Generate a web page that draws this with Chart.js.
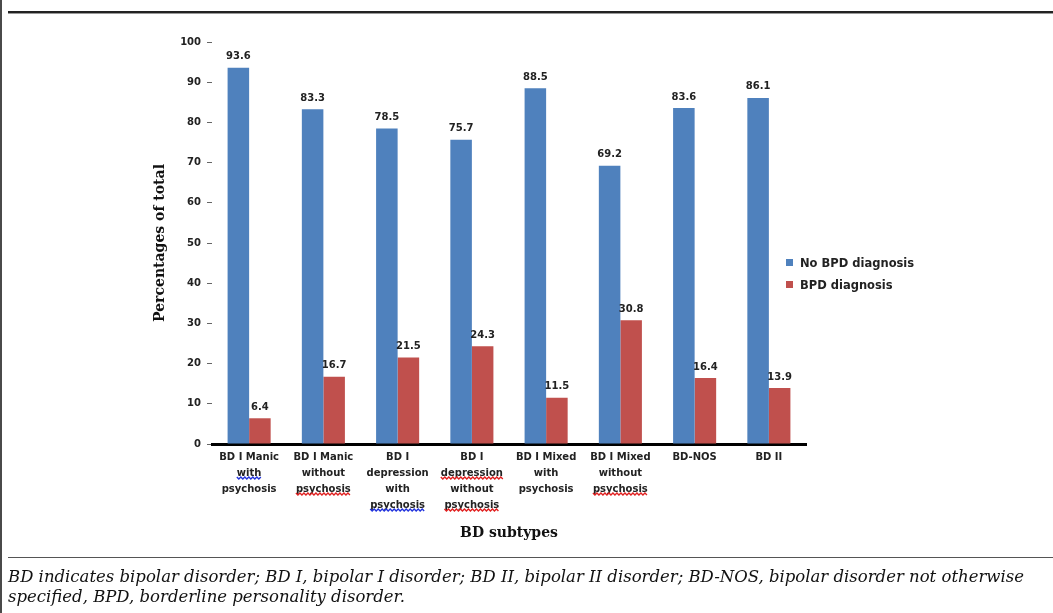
<!DOCTYPE html>
<html>
<head>
<meta charset="utf-8">
<title>BPD diagnosis by BD subtype</title>
<script src="https://cdn.jsdelivr.net/npm/chart.js@4.4.1/dist/chart.umd.min.js"></script>
<style>
  html, body { margin: 0; padding: 0; background: #fff; }
  body { width: 1053px; height: 613px; position: relative; overflow: hidden; }
  .frame-left { position: absolute; left: 0; top: 0; width: 2px; height: 613px; background: #4a4a4a; }
  .rule-top { position: absolute; left: 8px; right: 0; top: 11px; height: 2px; background: #222; border-bottom: 1px solid #999; }
  .rule-bottom { position: absolute; left: 8px; right: 0; top: 557px; height: 1px; background: #555; }
  .note { position: absolute; left: 8px; top: 567px; font: italic 16.5px "DejaVu Serif", serif; line-height: 20px; color: #111; white-space: nowrap; }
  #chart { position: absolute; left: 0; top: 0; }
  .legend { position: absolute; left: 786px; top: 255px; font: bold 11.5px "DejaVu Sans", sans-serif; color: #222; }
  .legend div { height: 22px; line-height: 16px; white-space: nowrap; }
  .legend span { display: inline-block; width: 7px; height: 7px; margin-right: 7px; vertical-align: 1px; }
</style>
</head>
<body>
<div class="frame-left"></div>
<div class="rule-top"></div>
<canvas id="chart" width="1053" height="613"></canvas>
<div class="legend" id="legend"></div>
<div class="rule-bottom"></div>
<div class="note">BD indicates bipolar disorder; BD I, bipolar I disorder; BD II, bipolar II disorder; BD-NOS, bipolar disorder not otherwise<br>specified, BPD, borderline personality disorder.</div>

<script>
var subtypes = [
    ["BD I Manic", "with", "psychosis"],
    ["BD I Manic", "without", "psychosis"],
    ["BD I", "depression", "with", "psychosis"],
    ["BD I", "depression", "without", "psychosis"],
    ["BD I Mixed", "with", "psychosis"],
    ["BD I Mixed", "without", "psychosis"],
    "BD-NOS",
    "BD II"
];
var noBpd = [93.6, 83.3, 78.5, 75.7, 88.5, 69.2, 83.6, 86.1];
var bpd = [6.4, 16.7, 21.5, 24.3, 11.5, 30.8, 16.4, 13.9];
var seriesNames = ["No BPD diagnosis", "BPD diagnosis"];

// spell-check squiggles under some label lines: [category, line, colour]
var squiggles = [
    [0, 1, "#2233dd"],
    [1, 2, "#e02020"],
    [2, 3, "#2233dd"],
    [3, 1, "#e02020"],
    [3, 3, "#e02020"],
    [5, 2, "#e02020"]
];

var tickFont = { family: "DejaVu Sans", size: 10, weight: "bold", lineHeight: 1.6 };
var tickPad = -3;

var valueLabels = {
    id: 'valueLabels',
    afterDatasetsDraw: function (chart) {
        var ctx = chart.ctx;
        ctx.save();
        ctx.font = "bold 10px 'DejaVu Sans'";
        ctx.fillStyle = "#222";
        ctx.textAlign = "center";
        ctx.textBaseline = "middle";
        chart.data.datasets.forEach(function (ds, i) {
            chart.getDatasetMeta(i).data.forEach(function (bar, j) {
                ctx.fillText(ds.data[j].toFixed(1), bar.x, bar.y - 11);
            });
        });
        ctx.restore();
    }
};

var squiggleLines = {
    id: 'squiggleLines',
    afterDraw: function (chart) {
        var ctx = chart.ctx;
        var xs = chart.scales.x;
        var lh = tickFont.size * tickFont.lineHeight;
        ctx.save();
        ctx.font = "bold 10px 'DejaVu Sans'";
        ctx.lineWidth = 1.4;
        squiggles.forEach(function (s) {
            var word = subtypes[s[0]][s[1]];
            var w = ctx.measureText(word).width;
            var cx = xs.getPixelForTick(s[0]);
            // label lines sit one line height apart, the first one lh below the padding
            var y = xs.top + tickPad + lh * (s[1] + 1) + 5;
            ctx.strokeStyle = s[2];
            ctx.beginPath();
            for (var x = cx - w / 2, k = 0; x <= cx + w / 2; x += 2, k++) {
                var yy = y + (k % 2 ? 1 : -1);
                if (k === 0) ctx.moveTo(x, yy); else ctx.lineTo(x, yy);
            }
            ctx.stroke();
        });
        ctx.restore();
    }
};

var chart = new Chart(document.getElementById("chart").getContext("2d"), {
    type: 'bar',
    data: {
        labels: subtypes,
        datasets: [{
            label: seriesNames[0],
            data: noBpd,
            backgroundColor: '#4F81BD'
        }, {
            label: seriesNames[1],
            data: bpd,
            backgroundColor: '#C0504D'
        }]
    },
    options: {
        responsive: false,
        animation: false,
        layout: { padding: { left: 150, top: 42, right: 247, bottom: 69 } },
        categoryPercentage: 0.58,
        barPercentage: 1,
        plugins: {
            legend: { display: false },
            tooltip: { enabled: false }
        },
        scales: {
            x: {
                grid: { display: false },
                border: { display: true, color: '#000', width: 3 },
                ticks: { font: tickFont, color: '#222', padding: tickPad, maxRotation: 0, autoSkip: false },
                title: {
                    display: true,
                    text: 'BD subtypes',
                    font: { family: 'DejaVu Serif', size: 14, weight: 'bold' },
                    color: '#111',
                    padding: { top: 0, bottom: 2 }
                },
                afterFit: function (scale) { scale.height = 100; }
            },
            y: {
                min: 0,
                max: 100,
                ticks: { stepSize: 10, font: { family: 'DejaVu Sans', size: 10, weight: 'bold' }, color: '#222', padding: 6 },
                grid: { drawOnChartArea: false, drawTicks: true, tickLength: 5, color: '#666' },
                border: { display: false },
                title: {
                    display: true,
                    text: 'Percentages of total',
                    font: { family: 'DejaVu Serif', size: 14, weight: 'bold' },
                    color: '#111',
                    padding: { top: 2, bottom: 0 }
                },
                afterFit: function (scale) { scale.width = 62; }
            }
        }
    },
    plugins: [valueLabels, squiggleLines]
});

var legend = document.getElementById("legend");
chart.data.datasets.forEach(function (ds) {
    var row = document.createElement("div");
    var box = document.createElement("span");
    box.style.background = ds.backgroundColor;
    row.appendChild(box);
    row.appendChild(document.createTextNode(ds.label));
    legend.appendChild(row);
});
</script>
</body>
</html>
